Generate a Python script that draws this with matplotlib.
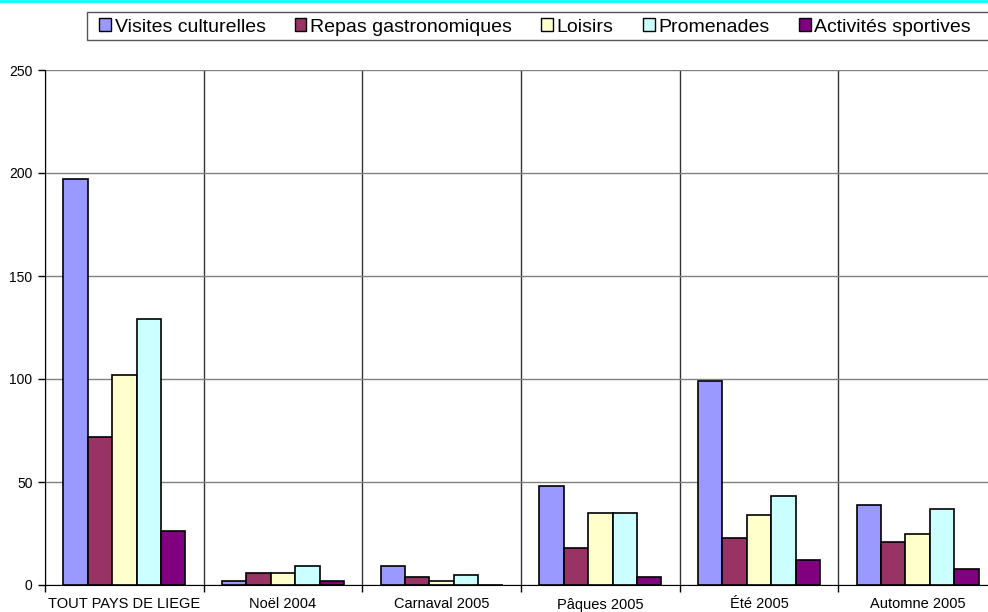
import matplotlib
matplotlib.use("Agg")
import matplotlib.pyplot as plt
from matplotlib.lines import Line2D
from matplotlib.patches import Patch, Rectangle
import numpy as np

plt.rcParams['font.family'] = ['Liberation Sans', 'DejaVu Sans']

categories = ["TOUT PAYS DE LIEGE", "Noël 2004", "Carnaval 2005", "Pâques 2005", "Été 2005", "Automne 2005"]
series_names = ["Visites culturelles", "Repas gastronomiques", "Loisirs", "Promenades", "Activités sportives"]
visites = [197, 2, 9, 48, 99, 39]
repas = [72, 6, 4, 18, 23, 21]
loisirs = [102, 6, 2, 35, 34, 25]
promenades = [129, 9, 5, 35, 43, 37]
sportives = [26, 2, 0, 4, 12, 8]
colors = ["#9999FF", "#993366", "#FFFFCC", "#CCFFFF", "#800080"]
yticks = [0, 50, 100, 150, 200, 250]

data = [visites, repas, loisirs, promenades, sportives]

W, H = 988, 612
fig = plt.figure(figsize=(W/100, H/100), dpi=100)
ax = fig.add_axes([45/W, 27/H, 952/W, 515/H])

n = len(series_names)
bw = 1 / 6.5
x = np.arange(len(categories))
for i, (vals, c) in enumerate(zip(data, colors)):
    offs = (i - (n - 1) / 2) * bw
    ax.bar(x + offs, vals, width=bw, color=c, edgecolor="black", linewidth=1.2, zorder=3)

ax.set_xlim(-0.5, len(categories) - 0.5)
ax.set_ylim(0, 250)
ax.set_yticks(yticks)
ax.set_yticklabels([str(v) for v in yticks], fontsize=10)
ax.set_xticks(x)
ax.set_xticklabels(categories, fontsize=10.5)
ax.tick_params(axis='x', which='major', length=0, pad=9)
ax.set_xticks(np.arange(len(categories) + 1) - 0.5, minor=True)
ax.tick_params(axis='x', which='minor', length=5, width=1, color="black")
ax.tick_params(axis='y', length=5, width=1, color="black", pad=4)
ax.yaxis.grid(True, color="#808080", linewidth=1, zorder=0)
ax.xaxis.grid(True, which='minor', color="#333333", linewidth=1, zorder=0)
ax.set_axisbelow(True)
for s in ["top", "right"]:
    ax.spines[s].set_visible(False)
ax.spines["left"].set_color("black")
ax.spines["bottom"].set_color("black")
ax.spines["left"].set_zorder(4)
ax.spines["bottom"].set_zorder(4)

# legend frame (extends past the right edge like the reference)
fig.add_artist(Rectangle((87/W, 1 - 40/H), (1005 - 87)/W, 28/H, transform=fig.transFigure,
                         facecolor="white", edgecolor="#555555", linewidth=1.0))

handles = [Patch(facecolor=c, edgecolor="black", linewidth=1) for c in colors]
leg = fig.legend(handles, series_names, loc="center left",
                 bbox_to_anchor=(99/W, 1 - 27/H),
                 ncol=5, fontsize=14, frameon=False,
                 handlelength=0.6, handleheight=0.6, handletextpad=0.2, columnspacing=1.5,
                 borderpad=0, borderaxespad=0)

fig.add_artist(Line2D([0, 1], [1 - 0.8/H, 1 - 0.8/H], color="#00FFFF", linewidth=2, transform=fig.transFigure))

fig.savefig("out.png", dpi=100)
